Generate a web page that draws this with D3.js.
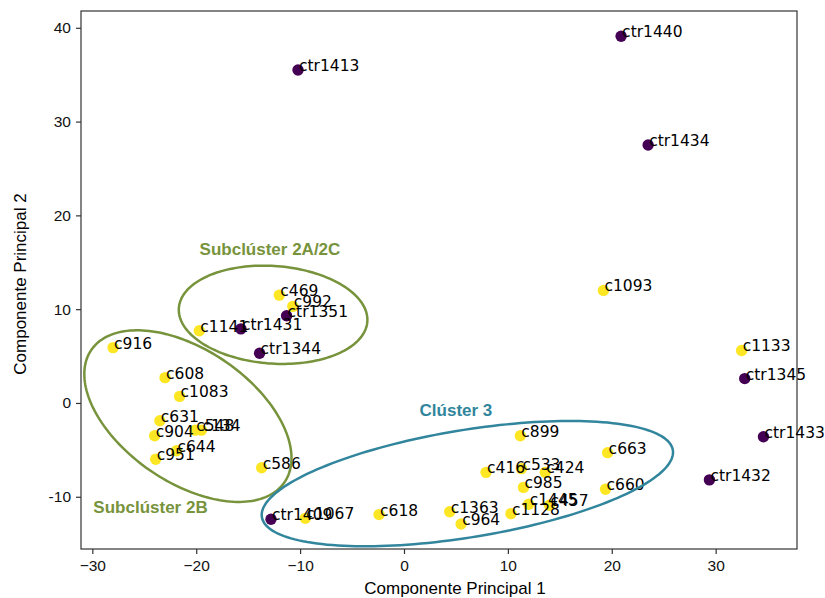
<!DOCTYPE html>
<html>
<head>
<meta charset="utf-8">
<script src="https://cdn.jsdelivr.net/npm/d3@7"></script>
<style>
  body { margin: 0; background: #fff; }
  svg { display: block; }
</style>
</head>
<body>
<svg id="chart"></svg>
<script>
// sample names, PCA coordinates and group (0 = ctr, 1 = c)
const names = ['ctr1440','ctr1413','ctr1434','ctr1431','ctr1351','ctr1344','ctr1345','ctr1433','ctr1432','ctr1409',
  'c1093','c1133','c469','c992','c1141','c916','c608','c1083','c631','c904','c548','c134','c644','c951','c586',
  'c1067','c618','c1363','c964','c1128','c899','c416','c533','c424','c985','c1445','c457','c663','c660']
const pc1 = [20.9, -10.2, 23.5, -15.7, -11.3, -13.9, 32.8, 34.6, 29.4, -12.8,
  19.2, 32.5, -12.0, -10.7, -19.7, -28.0, -23.0, -21.6, -23.5, -24.0, -20.1, -19.5, -21.9, -23.9, -13.7,
  -9.5, -2.4, 4.4, 5.5, 10.3, 11.2, 7.9, 11.3, 13.6, 11.5, 12.0, 14.0, 19.6, 19.4]
const pc2 = [39.1, 35.5, 27.5, 7.9, 9.3, 5.3, 2.6, -3.6, -8.2, -12.4,
  12.0, 5.6, 11.5, 10.3, 7.7, 5.9, 2.7, 0.7, -1.9, -3.5, -2.9, -2.9, -5.1, -6.0, -6.9,
  -12.3, -11.9, -11.6, -12.9, -11.8, -3.5, -7.4, -7.0, -7.4, -9.0, -10.8, -10.9, -5.3, -9.2]
const group = [0,0,0,0,0,0,0,0,0,0,
  1,1,1,1,1,1,1,1,1,1,1,1,1,1,1,1,1,1,1,1,1,1,1,1,1,1,1,1,1]

const xTicks = [-30, -20, -10, 0, 10, 20, 30]
const yTicks = [-10, 0, 10, 20, 30, 40]

// cluster ellipses in data units: center, width, height, angle (deg)
const clusterNames = ['Subclúster 2A/2C', 'Subclúster 2B', 'Clúster 3']
const clusterCx = [-12.6, -20.8, 6.1]
const clusterCy = [9.4, -1.4, -8.6]
const clusterW = [18.2, 23.4, 40.2]
const clusterH = [10.4, 13.6, 11.4]
const clusterAngle = [-5, -40, 10.4]
const clusterLabelX = [-12.9, -24.4, 5.0]
const clusterLabelY = [16.4, -11.1, -0.85]
const clusterColor = ['#77933c', '#77933c', '#31859c']

const width = 825, height = 598
const margin = { top: 11, right: 28, bottom: 49, left: 81 }

const svg = d3.select('#chart').attr('width', width).attr('height', height)

const x = d3.scaleLinear().domain([-31.09, 37.83]).range([margin.left, width - margin.right])
const y = d3.scaleLinear().domain([-15.57, 41.79]).range([height - margin.bottom, margin.top])

const color = d3.scaleOrdinal().domain([0, 1]).range(['#440154', '#fde725'])

// axes
const xAxis = svg.append('g')
  .attr('transform', 'translate(0,' + (height - margin.bottom) + ')')
  .call(d3.axisBottom(x).tickValues(xTicks).tickSize(5).tickPadding(6)
    .tickFormat(d => (d < 0 ? '\u2212' + Math.abs(d) : d)))
const yAxis = svg.append('g')
  .attr('transform', 'translate(' + margin.left + ',0)')
  .call(d3.axisLeft(y).tickValues(yTicks).tickSize(5).tickPadding(5)
    .tickFormat(d => d))

;[xAxis, yAxis].forEach(g => {
  g.select('.domain').remove()
  g.selectAll('line').attr('stroke', '#333').attr('stroke-width', 1.2)
  g.selectAll('text').attr('fill', '#111').style('font-family', 'Liberation Sans, Arial, sans-serif').style('font-size', '15.5px')
})

// frame
svg.append('rect')
  .attr('x', margin.left).attr('y', margin.top)
  .attr('width', width - margin.left - margin.right)
  .attr('height', height - margin.top - margin.bottom)
  .attr('fill', 'none').attr('stroke', '#333').attr('stroke-width', 1.2)

// axis labels
svg.append('text')
  .attr('x', (margin.left + width - margin.right) / 2 + 16).attr('y', height - 4)
  .attr('text-anchor', 'middle')
  .style('font-family', 'Liberation Sans, Arial, sans-serif').style('font-size', '17px')
  .text('Componente Principal 1')
svg.append('text')
  .attr('transform', 'translate(26,' + ((margin.top + height - margin.bottom) / 2 + 4) + ') rotate(-90)')
  .attr('text-anchor', 'middle')
  .style('font-family', 'Liberation Sans, Arial, sans-serif').style('font-size', '17px')
  .text('Componente Principal 2')

// points
const pts = d3.range(names.length)
svg.append('g').selectAll('circle')
  .data(pts).enter().append('circle')
  .attr('cx', i => x(pc1[i])).attr('cy', i => y(pc2[i]))
  .attr('r', 5.7)
  .attr('fill', i => color(group[i]))

svg.append('g').selectAll('text')
  .data(pts).enter().append('text')
  .attr('x', i => x(pc1[i]) + 1).attr('y', i => y(pc2[i]) + 1)
  .style('font-family', 'DejaVu Sans, sans-serif').style('font-size', '15.5px')
  .attr('fill', '#000')
  .text(i => names[i])

// ellipses, traced in data space then mapped through the scales
const line = d3.line().x(d => x(d[0])).y(d => y(d[1])).curve(d3.curveLinearClosed)
clusterNames.forEach((name, k) => {
  const a = (clusterAngle[k] * Math.PI) / 180
  const rx = clusterW[k] / 2, ry = clusterH[k] / 2
  const ring = d3.range(0, 2 * Math.PI, Math.PI / 90).map(t => [
    clusterCx[k] + rx * Math.cos(t) * Math.cos(a) - ry * Math.sin(t) * Math.sin(a),
    clusterCy[k] + rx * Math.cos(t) * Math.sin(a) + ry * Math.sin(t) * Math.cos(a),
  ])
  svg.append('path')
    .attr('d', line(ring))
    .attr('fill', 'none').attr('stroke', clusterColor[k]).attr('stroke-width', 2.5)
  svg.append('text')
    .attr('x', x(clusterLabelX[k])).attr('y', y(clusterLabelY[k]))
    .attr('text-anchor', 'middle').attr('dominant-baseline', 'central')
    .style('font-family', 'Liberation Sans, Arial, sans-serif').style('font-size', '17px')
    .style('font-weight', 'bold')
    .attr('fill', clusterColor[k])
    .text(name)
})
</script>
</body>
</html>
